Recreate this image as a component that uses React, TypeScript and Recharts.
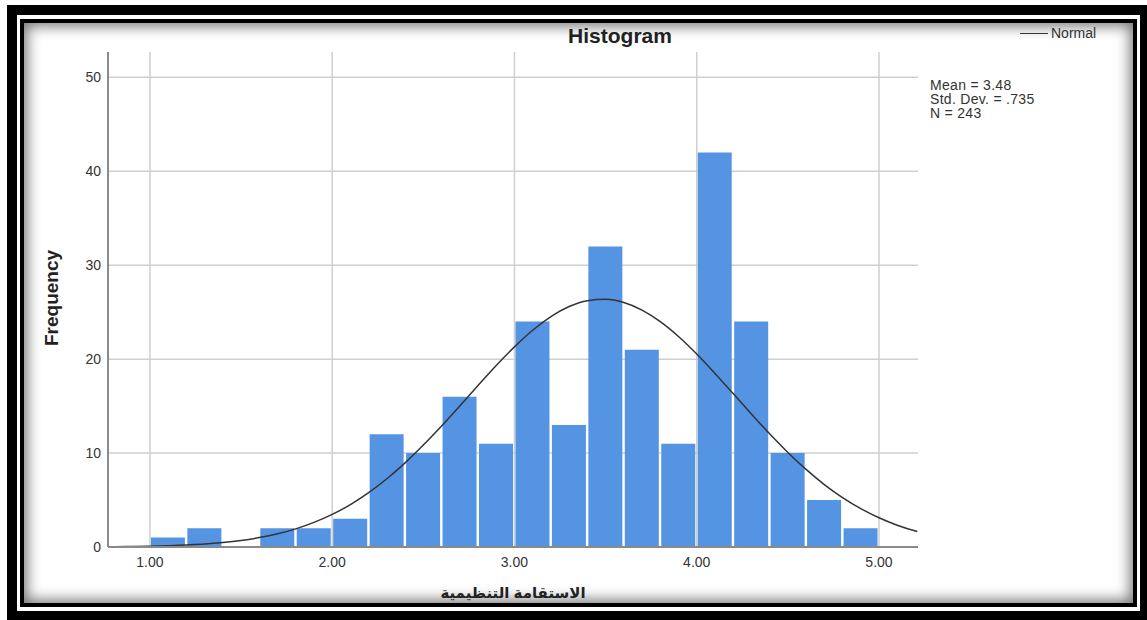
import React from "react";
import {
  ComposedChart,
  Bar,
  Line,
  XAxis,
  YAxis,
  CartesianGrid,
} from "recharts";

// histogram bins (width 0.2), x = bin centre
const binCenters = [
  1.1, 1.3, 1.5, 1.7, 1.9, 2.1, 2.3, 2.5, 2.7, 2.9, 3.1, 3.3, 3.5, 3.7, 3.9,
  4.1, 4.3, 4.5, 4.7, 4.9,
];
const frequencies = [
  1, 2, 0, 2, 2, 3, 12, 10, 16, 11, 24, 13, 32, 21, 11, 42, 24, 10, 5, 2,
];

// normal curve
const curveX = [
  0.77, 0.8, 0.9, 1.0, 1.1, 1.2, 1.3, 1.4, 1.5, 1.6, 1.7, 1.8, 1.9, 2.0, 2.1,
  2.2, 2.3, 2.4, 2.5, 2.6, 2.7, 2.8, 2.9, 3.0, 3.1, 3.2, 3.3, 3.4, 3.5, 3.6,
  3.7, 3.8, 3.9, 4.0, 4.1, 4.2, 4.3, 4.4, 4.5, 4.6, 4.7, 4.8, 4.9, 5.0, 5.1,
  5.2, 5.21,
];
const curveY = [
  0.03, 0.03, 0.06, 0.09, 0.14, 0.22, 0.32, 0.48, 0.7, 1.0, 1.4, 1.93, 2.62,
  3.47, 4.52, 5.79, 7.27, 8.96, 10.85, 12.88, 15.02, 17.19, 19.33, 21.31,
  23.08, 24.53, 25.6, 26.22, 26.37, 26.03, 25.22, 23.99, 22.41, 20.54, 18.48,
  16.33, 14.16, 12.05, 10.07, 8.26, 6.65, 5.26, 4.08, 3.11, 2.32, 1.71, 1.66,
];

const xTicks = [1, 2, 3, 4, 5];
const yTicks = [0, 10, 20, 30, 40, 50];
const statLines = ["Mean = 3.48", "Std. Dev. = .735", "N = 243"];

const bins = binCenters.map((x, i) => ({ x, count: frequencies[i] }));
const curve = curveX.map((x, i) => ({ x, normal: curveY[i] }));

const FONT = '"Liberation Sans", Arial, "DejaVu Sans", sans-serif';

export default function App() {
  return (
    <div
      style={{
        position: "fixed",
        left: 0,
        top: 0,
        width: 1147,
        height: 620,
        background: "#fff",
        overflow: "hidden",
        fontFamily: FONT,
      }}
    >
      {/* outer frame */}
      <div
        style={{
          position: "absolute",
          left: 7,
          top: 5,
          width: 1143,
          height: 616,
          border: "10px solid #000",
          boxSizing: "border-box",
        }}
      />
      {/* inner frame with shadow */}
      <div
        style={{
          position: "absolute",
          left: 20,
          top: 19,
          width: 1117,
          height: 588,
          border: "4px solid #000",
          boxSizing: "border-box",
          boxShadow: "inset 0 0 14px 3px rgba(0,0,0,0.55)",
        }}
      />

      <div style={{ position: "absolute", left: 0, top: 0 }}>
        <ComposedChart
          width={1147}
          height={620}
          data={bins}
          margin={{ top: 52, right: 229, bottom: 13, left: 48 }}
          barCategoryGap={1}
        >
          <CartesianGrid
            stroke="#cfcfcf"
            strokeWidth={1.5}
            horizontalValues={yTicks}
            verticalValues={xTicks}
          />
          <XAxis
            dataKey="x"
            type="number"
            domain={[0.77, 5.214]}
            allowDataOverflow
            ticks={xTicks}
            tickFormatter={(v: number) => v.toFixed(2)}
            tick={{ fontSize: 14, fill: "#333", fontFamily: FONT }}
            tickSize={0}
            tickMargin={10}
            height={60}
            stroke="#8a8a8a"
            strokeWidth={2}
            label={{
              value: "الاستقامة التنظيمية",
              position: "insideBottom",
              offset: 9,
              style: {
                fontSize: 15,
                fontWeight: "bold",
                fill: "#222",
                fontFamily: FONT,
              },
            }}
          />
          <XAxis
            xAxisId="curve"
            dataKey="x"
            type="number"
            domain={[0.77, 5.214]}
            allowDataOverflow
            hide
          />
          <YAxis
            type="number"
            domain={[0, 52.7]}
            allowDataOverflow
            ticks={yTicks}
            tick={{ fontSize: 14, fill: "#333", fontFamily: FONT }}
            tickSize={0}
            tickMargin={7}
            width={60}
            stroke="#8a8a8a"
            strokeWidth={2}
          />
          <Bar
            dataKey="count"
            fill="#5593e3"
            isAnimationActive={false}
          />
          <Line
            xAxisId="curve"
            data={curve}
            dataKey="normal"
            name="Normal"
            type="monotone"
            stroke="#333"
            strokeWidth={1.5}
            dot={false}
            isAnimationActive={false}
          />
        </ComposedChart>
      </div>

      {/* legend */}
      <div
        style={{
          position: "absolute",
          left: 1020,
          top: 25,
          display: "flex",
          alignItems: "center",
          fontSize: 14,
          lineHeight: "16px",
          color: "#333",
        }}
      >
        <span
          style={{
            display: "inline-block",
            width: 28,
            height: 0,
            borderTop: "1.5px solid #333",
            marginRight: 3,
          }}
        />
        Normal
      </div>

      {/* title */}
      <div
        style={{
          position: "absolute",
          left: 520,
          top: 23,
          width: 200,
          textAlign: "center",
          fontSize: 21,
          fontWeight: "bold",
          color: "#222",
          lineHeight: "26px",
        }}
      >
        Histogram
      </div>

      {/* y axis title */}
      <div
        style={{
          position: "absolute",
          left: 2,
          top: 286,
          width: 100,
          textAlign: "center",
          fontSize: 19,
          fontWeight: "bold",
          color: "#222",
          lineHeight: "24px",
          transform: "rotate(-90deg)",
        }}
      >
        Frequency
      </div>

      {/* stats */}
      <div
        style={{
          position: "absolute",
          left: 930,
          top: 78,
          fontSize: 14,
          lineHeight: "14px",
          letterSpacing: 0.3,
          color: "#333",
        }}
      >
        {statLines.map((s) => (
          <div key={s}>{s}</div>
        ))}
      </div>
    </div>
  );
}
